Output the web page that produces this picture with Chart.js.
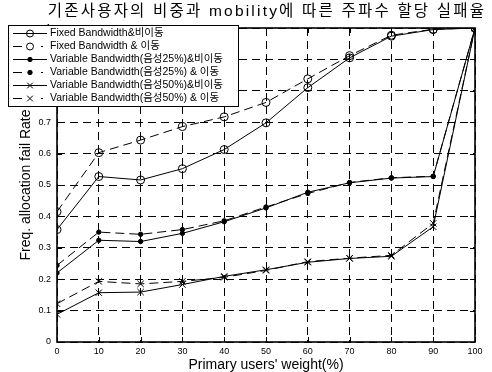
<!DOCTYPE html>
<html>
<head>
<meta charset="utf-8">
<script src="https://cdn.jsdelivr.net/npm/chart.js@4"></script>
<style>
  html, body { margin: 0; padding: 0; background: #fff; }
  #wrap { width: 492px; height: 372px; }
</style>
</head>
<body>
<div id="wrap"><canvas id="c" width="492" height="372"></canvas></div>
<script>
// ---- data ----
const chartTitle = '기존사용자의 비중과 mobility에 따른 주파수 할당 실패율';
const xTitle = "Primary users' weight(%)";
const yTitle = 'Freq. allocation fail Rate';
const weights = [0, 10, 20, 30, 40, 50, 60, 70, 80, 90, 100];
const seriesLabels = [
  'Fixed Bandwidth&비이동',
  'Fixed Bandwidth & 이동',
  'Variable Bandwidth(음성25%)&비이동',
  'Variable Bandwidth(음성25%) & 이동',
  'Variable Bandwidth(음성50%)&비이동',
  'Variable Bandwidth(음성50%) & 이동'
];
const fixedStatic  = [0.358, 0.527, 0.516, 0.552, 0.613, 0.698, 0.810, 0.905, 0.974, 0.995, 1.0];
const fixedMobile  = [0.415, 0.603, 0.643, 0.686, 0.717, 0.763, 0.838, 0.912, 0.977, 0.996, 1.0];
const var25Static  = [0.220, 0.324, 0.320, 0.346, 0.383, 0.427, 0.477, 0.507, 0.522, 0.527, 1.0];
const var25Mobile  = [0.244, 0.350, 0.343, 0.358, 0.386, 0.430, 0.473, 0.508, 0.523, 0.528, 1.0];
const var50Static  = [0.088, 0.157, 0.159, 0.183, 0.209, 0.230, 0.254, 0.266, 0.273, 0.367, 1.0];
const var50Mobile  = [0.122, 0.193, 0.185, 0.193, 0.206, 0.228, 0.256, 0.267, 0.276, 0.378, 1.0];
const xTicks = [0, 10, 20, 30, 40, 50, 60, 70, 80, 90, 100];
const yTicks = [0, 0.1, 0.2, 0.3, 0.4, 0.5, 0.6, 0.7, 0.8, 0.9, 1];

const seriesValues = [fixedStatic, fixedMobile, var25Static, var25Mobile, var50Static, var50Mobile];
const styles = [
  { pointStyle: 'circle', radius: 4, fill: 'rgba(0,0,0,0)', dash: [] },
  { pointStyle: 'circle', radius: 4, fill: 'rgba(0,0,0,0)', dash: [9, 5] },
  { pointStyle: 'circle', radius: 2.2, fill: '#000', dash: [] },
  { pointStyle: 'circle', radius: 2.2, fill: '#000', dash: [9, 5] },
  { pointStyle: 'crossRot', radius: 4.5, fill: '#000', dash: [] },
  { pointStyle: 'crossRot', radius: 4.5, fill: '#000', dash: [9, 5] }
];

const datasets = seriesValues.map((vals, i) => ({
  label: seriesLabels[i],
  data: weights.map((w, j) => ({ x: w, y: vals[j] })),
  borderColor: '#000',
  borderWidth: 1,
  borderDash: styles[i].dash,
  pointStyle: styles[i].pointStyle,
  pointRadius: styles[i].radius,
  pointBorderWidth: 1,
  pointBorderColor: '#000',
  pointBackgroundColor: styles[i].fill,
  tension: 0,
  fill: false
}));

const KFONT = "'Liberation Sans', Arial, 'Noto Sans CJK KR', sans-serif";

const decor = {
  id: 'decor',
  afterDraw(chart) {
    const ctx = chart.ctx;
    const a = chart.chartArea;
    const xs = chart.scales.x, ys = chart.scales.y;
    ctx.save();
    // inward tick marks
    ctx.strokeStyle = '#000';
    ctx.lineWidth = 1;
    ctx.setLineDash([]);
    ctx.beginPath();
    xTicks.forEach(v => {
      const px = Math.round(xs.getPixelForValue(v)) + 0.5;
      ctx.moveTo(px, a.bottom); ctx.lineTo(px, a.bottom - 5);
      ctx.moveTo(px, a.top); ctx.lineTo(px, a.top + 5);
    });
    yTicks.forEach(v => {
      const py = Math.round(ys.getPixelForValue(v)) + 0.5;
      ctx.moveTo(a.left, py); ctx.lineTo(a.left + 5, py);
      ctx.moveTo(a.right, py); ctx.lineTo(a.right - 5, py);
    });
    ctx.stroke();
    // frame
    ctx.lineWidth = 1.6;
    ctx.strokeRect(a.left, a.top, a.right - a.left, a.bottom - a.top);

    // title
    ctx.fillStyle = '#000';
    ctx.font = '15.5px ' + KFONT;
    ctx.letterSpacing = '2.2px';
    ctx.textAlign = 'center';
    ctx.textBaseline = 'middle';
    ctx.fillText(chartTitle, (a.left + a.right) / 2 + 1, 12);
    ctx.letterSpacing = '0px';

    // legend
    const lx = 8, ly = 25, lw = 230, lh = 81;
    ctx.fillStyle = '#fff';
    ctx.fillRect(lx, ly, lw, lh);
    ctx.lineWidth = 1;
    ctx.strokeStyle = '#000';
    ctx.strokeRect(lx + 0.5, ly + 0.5, lw, lh);
    ctx.font = '10.5px ' + KFONT;
    ctx.textAlign = 'left';
    ctx.textBaseline = 'middle';
    chart.data.datasets.forEach((ds, i) => {
      const y = Math.round(33 + i * 13) + 0.5;
      ctx.strokeStyle = '#000';
      ctx.lineWidth = 1;
      ctx.setLineDash([]);
      ctx.beginPath();
      if (ds.borderDash && ds.borderDash.length) {
        ctx.moveTo(13, y); ctx.lineTo(22, y);
        ctx.moveTo(41, y); ctx.lineTo(43, y);
      } else {
        ctx.moveTo(13, y); ctx.lineTo(47, y);
      }
      ctx.stroke();
      ctx.fillStyle = ds.pointBackgroundColor;
      ctx.strokeStyle = '#000';
      Chart.helpers.drawPoint(ctx, {
        pointStyle: ds.pointStyle,
        radius: ds.pointStyle === 'circle' ? Math.min(ds.pointRadius, 3.5) : 4,
        borderWidth: 1,
        rotation: 0
      }, 30, y);
      ctx.fillStyle = '#000';
      ctx.fillText(ds.label, 50, y);
    });
    ctx.restore();
  }
};

new Chart(document.getElementById('c'), {
  type: 'line',
  data: { datasets },
  options: {
    responsive: false,
    animation: false,
    devicePixelRatio: 1,
    layout: { padding: { left: 0, right: 17, top: 28, bottom: 0 } },
    plugins: {
      legend: { display: false },
      title: { display: false },
      tooltip: { enabled: false }
    },
    scales: {
      x: {
        type: 'linear',
        min: 0, max: 100,
        afterFit(s) { s.height = 30; },
        afterBuildTicks(s) { s.ticks = xTicks.map(v => ({ value: v })); },
        grid: { color: '#000', lineWidth: 1, drawTicks: false },
        border: { display: false, dash: [8, 5] },
        ticks: { color: '#000', padding: 4, font: { family: KFONT, size: 9 }, maxRotation: 0, autoSkip: false },
        title: { display: true, text: xTitle, color: '#000', font: { family: KFONT, size: 14, lineHeight: 1.0 }, padding: { top: 0, bottom: 0 } }
      },
      y: {
        type: 'linear',
        min: 0, max: 1,
        afterFit(s) { s.width = 57; },
        afterBuildTicks(s) { s.ticks = yTicks.map(v => ({ value: v })); },
        grid: { color: '#000', lineWidth: 1, drawTicks: false },
        border: { display: false, dash: [8, 5] },
        ticks: { color: '#000', padding: 6, font: { family: KFONT, size: 9 }, autoSkip: false,
                 callback: v => String(Math.round(v * 10) / 10) },
        title: { display: true, text: yTitle, color: '#000', font: { family: KFONT, size: 14, lineHeight: 1.2 }, padding: { top: 18, bottom: 0 } }
      }
    }
  },
  plugins: [decor]
});
</script>
</body>
</html>
